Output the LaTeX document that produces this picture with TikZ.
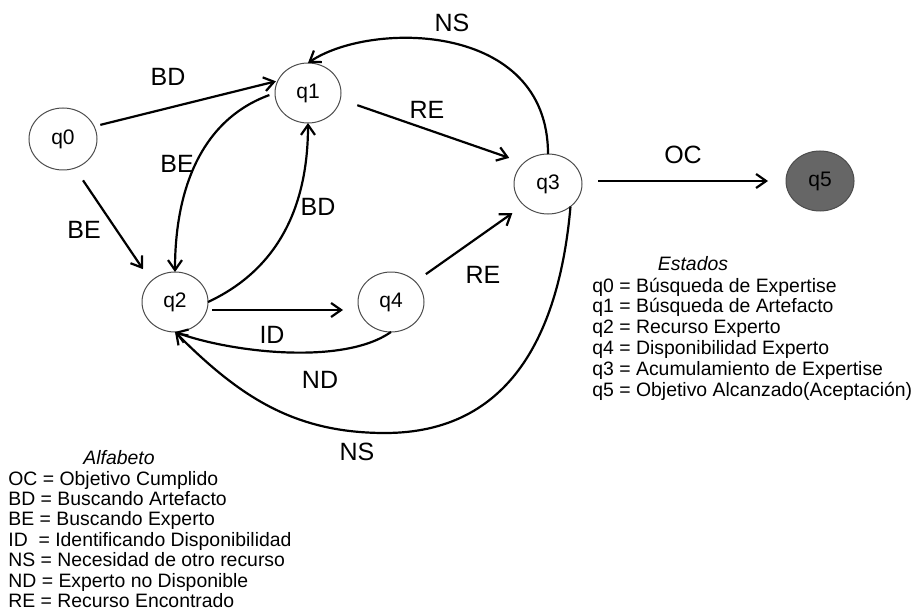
\documentclass[tikz,border=0pt]{standalone}
\usepackage{fontspec}
\setmainfont{Liberation Sans}
\usetikzlibrary{arrows.meta,shapes.geometric}
\begin{document}
\begin{tikzpicture}[x=0.5pt,y=0.5pt,
  state/.style={ellipse,draw=black!70,line width=0.5pt,minimum width=33pt,minimum height=30pt,inner sep=0pt,outer sep=0pt,font=\fontsize{10.5}{12}\selectfont},
  final/.style={state,fill=black!60},
  edge/.style={line width=1.1pt,-{Straight Barb[length=5pt,width=7pt]}},
  elab/.style={font=\fontsize{12.5}{14}\selectfont,inner sep=0pt},
  leg/.style={font=\fontsize{9.7}{11}\selectfont,inner sep=0pt,anchor=base west},
  head/.style={font=\fontsize{9.7}{11}\selectfont\itshape,inner sep=0pt,anchor=base}]
\useasboundingbox (0,0) rectangle (914,-609);
% states
\node[state,minimum width=34pt,minimum height=31pt] (q0) at (63,-139) {q0};
\node[state] (q1) at (308,-93) {q1};
\node[state] (q2) at (175,-302) {q2};
\node[state] (q4) at (391,-302) {q4};
\node[state,minimum width=34pt] (q3) at (548,-184) {q3};
\node[final,minimum width=34pt] (q5) at (820,-181) {q5};
% straight transitions
\draw[edge,shorten <=3.2pt,shorten >=1pt] (q0.22) -- (q1.158);
\draw[edge,shorten <=7.4pt,shorten >=7.3pt] (q0.-68) -- (q2.139);
\draw[edge,shorten <=9pt,shorten >=7.7pt] (q1.-11) -- (q3.139);
\draw[edge,shorten <=6.5pt,shorten >=7pt] (q4.40) -- (q3.221);
\draw[edge,shorten <=2pt,shorten >=7.5pt] ([yshift=-4pt]q2.east) -- ([yshift=-4pt]q4.west);
\draw[edge,shorten <=8pt,shorten >=9pt] (q3.east |- q5) -- (q5.west);
% curved transitions
\draw[edge,shorten <=3pt] (q1.west) to[out=200,in=90] (q2.north);
\draw[edge] (q2.east) to[out=25,in=-90] (q1.south);
\draw[edge] (q4.south) to[out=-145,in=-20,looseness=0.7] (q2.south);
\coordinate (nsb) at (385,-433);
\draw[edge] (q3.-45) to[out=-95,in=0,looseness=1.1] (nsb) to[out=180,in=-45] (q2.south);
\draw[edge] (q3.north) .. controls +(0,133) and +(62,42) .. (q1.north);
% edge labels
\node[elab] (lBDa) at (168,-77) {BD};
\node[elab] (lBEa) at (84,-230) {BE};
\node[elab] (lBEb) at (177,-164) {BE};
\node[elab] (lBDb) at (318,-207) {BD};
\node[elab] (lREa) at (427,-110) {RE};
\node[elab] (lNSa) at (452,-23) {NS};
\node[elab] (lOC) at (683,-155) {OC};
\node[elab] (lREb) at (483,-275) {RE};
\node[elab] (lID) at (272,-335) {ID};
\node[elab] (lND) at (320,-380) {ND};
\node[elab] (lNSb) at (357,-452) {NS};
% legends
\node[head] (hE) at (693,-270) {Estados};
\foreach \t [count=\i] in {{q0 = Búsqueda de Expertise},{q1 = Búsqueda de Artefacto},{q2 = Recurso Experto},{q4 = Disponibilidad Experto},{q3 = Acumulamiento de Expertise},{q5 = Objetivo Alcanzado(Aceptación)}}
  \node[leg] (e\i) at (592,{-292-20.8*(\i-1)}) {\t};
\node[head] (hA) at (119,-464) {Alfabeto};
\foreach \t [count=\i] in {{OC = Objetivo Cumplido},{BD = Buscando Artefacto},{BE = Buscando Experto},{ID\ \ = Identificando Disponibilidad},{NS = Necesidad de otro recurso},{ND = Experto no Disponible},{RE = Recurso Encontrado}}
  \node[leg] (a\i) at (8,{-485-20.4*(\i-1)}) {\t};
\end{tikzpicture}
\end{document}
